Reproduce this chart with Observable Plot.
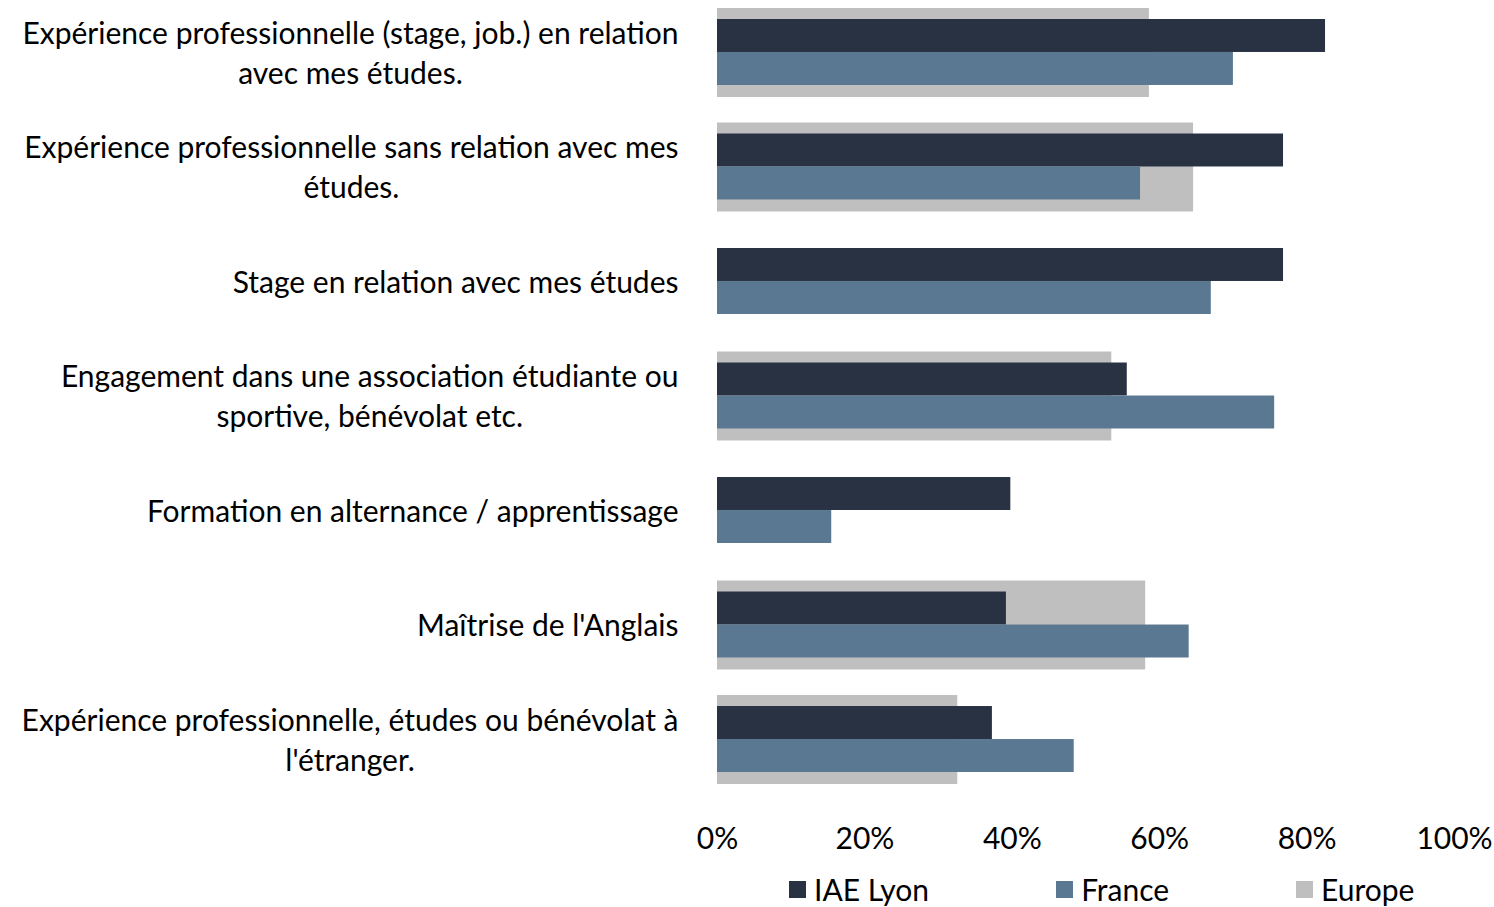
<!DOCTYPE html>
<html>
<head>
<meta charset="utf-8">
<script src="https://cdn.jsdelivr.net/npm/d3@7"></script>
<script src="https://cdn.jsdelivr.net/npm/@observablehq/plot@0.6"></script>
<style>
  html, body { margin: 0; padding: 0; background: #fff; }
  #chart svg { display: block; }
  #legendWrap { height: 38px; display: flex; align-items: center; padding-left: 789px; white-space: nowrap; }
  #legendWrap .lg-swatches, #legendWrap .lg-swatches-wrap { flex-wrap: nowrap !important; white-space: nowrap; margin: 0 !important; }
  #legendWrap .lg-swatch { margin-right: 127px !important; }
  #legendWrap .lg-swatch svg { margin-right: 8px !important; }
</style>
</head>
<body>
<div id="chart"></div>
<div id="legendWrap"></div>
<script>
const categories = [
  "Expérience professionnelle (stage, job.) en relation\navec mes études.",
  "Expérience professionnelle sans relation avec mes\nétudes.",
  "Stage en relation avec mes études",
  "Engagement dans une association étudiante ou\nsportive, bénévolat etc.",
  "Formation en alternance / apprentissage",
  "Maîtrise de l'Anglais",
  "Expérience professionnelle, études ou bénévolat à\nl'étranger."
];
const series = ["IAE Lyon", "France", "Europe"];
const iaeLyon = [0.825, 0.768, 0.768, 0.556, 0.398, 0.392, 0.373];
const france  = [0.700, 0.574, 0.670, 0.756, 0.155, 0.640, 0.484];
const europe  = [0.586, 0.646, null, 0.535, null, 0.581, 0.326];
const xTicks = [0, 0.2, 0.4, 0.6, 0.8, 1];
const colors = ["#283243", "#5a7891", "#bfbfbf"];

const FONT = "Lato, sans-serif";
const FS = 30;

const toRows = (vals, s) => categories.map((c, i) => ({category: c, series: s, value: vals[i]})).filter(d => d.value != null);
const iaeRows = toRows(iaeLyon, series[0]);
const franceRows = toRows(france, series[1]);
const europeRows = toRows(europe, series[2]);

// measure label lines so wrapped lines are centred within a right-aligned block
const ctx = document.createElement("canvas").getContext("2d");
ctx.font = `${FS}px Lato`;
const blockWidth = (label) => Math.max(...label.split("\n").map(l => ctx.measureText(l).width));
const GAP = 39;

const labelMarks = categories.map((c) => Plot.text([c], {
  y: d => d,
  text: d => d,
  frameAnchor: "left",
  textAnchor: "middle",
  lineAnchor: "middle",
  lineHeight: 40 / FS,
  dx: -(GAP + blockWidth(c) / 2),
  dy: -2,
  fill: "#000",
  fontSize: FS
}));

const chart = Plot.plot({
  width: 1494,
  height: 870,
  marginLeft: 717,
  marginRight: 40,
  marginTop: 8,
  marginBottom: 86,
  style: {fontFamily: FONT, fontSize: FS + "px", color: "#000", background: "#fff"},
  x: {domain: [0, 1], axis: null, label: null},
  y: {domain: categories, paddingInner: 0.223, paddingOuter: 0, round: false, axis: null},
  marks: [
    Plot.barX(europeRows, {x: "value", y: "category", fill: colors[2]}),
    Plot.barX(iaeRows, {x: "value", y: "category", fill: colors[0], insetTop: 11, insetBottom: 45}),
    Plot.barX(franceRows, {x: "value", y: "category", fill: colors[1], insetTop: 44, insetBottom: 12}),
    Plot.axisX(xTicks, {tickFormat: d3.format(".0%"), tickSize: 0, tickPadding: 43, fontSize: FS, fill: "#000", label: null}),
    ...labelMarks
  ]
});
document.getElementById("chart").appendChild(chart);

const legend = Plot.legend({
  color: {type: "categorical", domain: series, range: colors},
  swatchSize: 17,
  className: "lg",
  style: {fontFamily: FONT, fontSize: FS + "px", color: "#000"}
});
document.getElementById("legendWrap").appendChild(legend);
</script>
</body>
</html>
